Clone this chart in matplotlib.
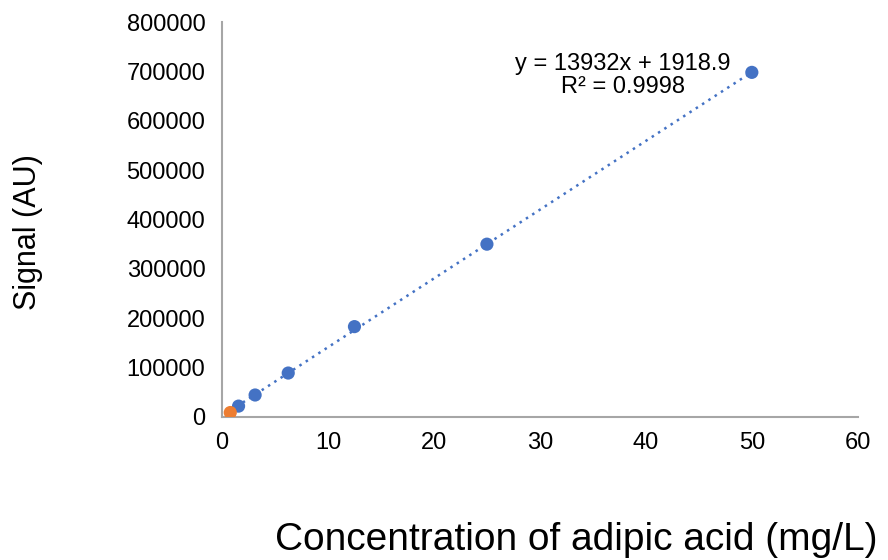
import matplotlib
matplotlib.use("Agg")
import matplotlib.pyplot as plt
import numpy as np

plt.rcParams['font.family'] = ['Liberation Sans', 'DejaVu Sans']

conc_blue = [1.5625, 3.125, 6.25, 12.5, 25, 50]
signal_blue = [22000, 44500, 89000, 183000, 350000, 698000]
conc_orange = [0.78]
signal_orange = [9000]
slope = 13932
intercept = 1918.9
xticks = [0, 10, 20, 30, 40, 50, 60]
yticks = [0, 100000, 200000, 300000, 400000, 500000, 600000, 700000, 800000]

fig = plt.figure(figsize=(8.88, 5.6), dpi=100)
ax = fig.add_axes([0.25, 0.2554, 0.716, 0.7053])

blue = '#4472C4'
orange = '#ED7D31'
xs = np.array([conc_orange[0], conc_blue[-1]])
ax.plot(xs, slope * xs + intercept, linestyle=(0, (1, 2)), color=blue, lw=1.8, zorder=1)
ax.scatter(conc_blue, signal_blue, s=90, color=blue, zorder=3, edgecolor='none')
ax.scatter(conc_orange, signal_orange, s=90, color=orange, zorder=4, edgecolor='none')

ax.set_xlim(0, 60)
ax.set_ylim(0, 800000)
ax.set_xticks(xticks)
ax.set_yticks(yticks)
ax.set_xticklabels([str(v) for v in xticks])
ax.set_yticklabels([str(v) for v in yticks])
ax.tick_params(length=0, labelsize=17, colors='#000000')
ax.tick_params(axis='x', pad=11)
ax.tick_params(axis='y', pad=12)
for s in ['top', 'right']:
    ax.spines[s].set_visible(False)
for s in ['left', 'bottom']:
    ax.spines[s].set_color('#A6A6A6')
    ax.spines[s].set_linewidth(1.5)

ax.text(37.8, 692000, 'y = 13932x + 1918.9\nR² = 0.9998', ha='center', va='center',
        fontsize=17, linespacing=1.05)

fig.text(0.649, 0.036, 'Concentration of adipic acid (mg/L)', ha='center', va='center', fontsize=28)
fig.text(0.032, 0.586, 'Signal (AU)', rotation=90, ha='center', va='center', fontsize=22)

fig.savefig('out.png', dpi=100)
